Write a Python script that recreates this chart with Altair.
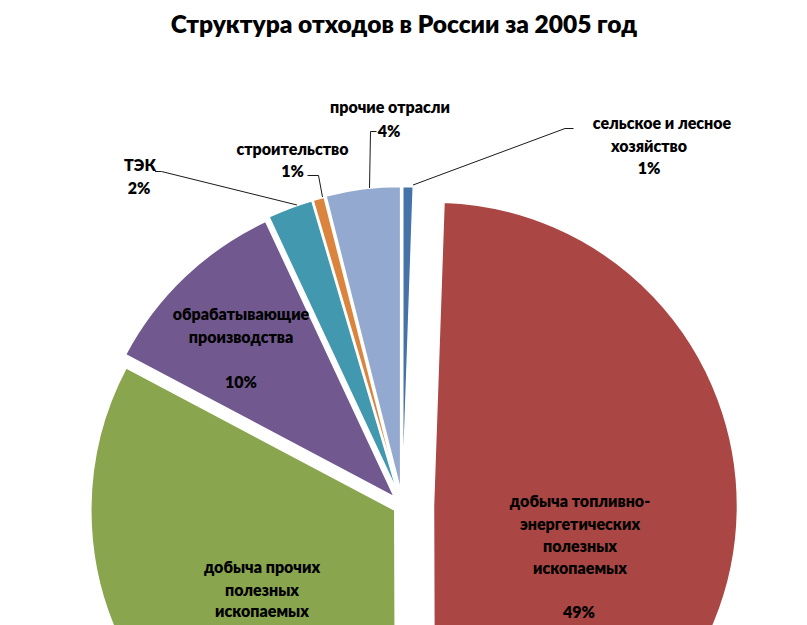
import math
import altair as alt
import pandas as pd

# ---------------- data ----------------
categories = [
    "сельское и лесное хозяйство",
    "добыча топливно-энергетических полезных ископаемых",
    "добыча прочих полезных ископаемых",
    "обрабатывающие производства",
    "ТЭК",
    "строительство",
    "прочие отрасли",
]
values = [0.55, 49.4, 32.8, 10.3, 2.4, 0.6, 3.95]
colors = ["#4572A7", "#AA4643", "#89A54E", "#71588F", "#4198AF", "#DB843D", "#93A9CF"]

title_text = "Структура отходов в России за 2005 год"

# ---------------- layout / style ----------------
CX, CY, R = 402.5, 505.5, 304
EXPLODE = [15, 31, 9, 12, 14, 14, 15]  # px per slice
FONT = "Lato"
LABEL_SIZE = 16
LABEL_WEIGHT = 800

# label lines (text pieces of category names) and their positions
LABEL_LINES = {
    0: [("сельское и лесное", 662, 124), ("хозяйство", 649, 147), ("%", 649, 169)],
    1: [("добыча топливно-", 580, 502), ("энергетических", 580, 525),
        ("полезных", 580, 547), ("ископаемых", 580, 569), ("%", 579, 613)],
    2: [("добыча прочих", 262, 568), ("полезных", 262, 591),
        ("ископаемых", 262, 612)],
    3: [("обрабатывающие", 241, 315), ("производства", 241, 338), ("%", 241, 383)],
    4: [("ТЭК", 140, 166), ("%", 139, 189)],
    5: [("строительство", 292.5, 150), ("%", 292.5, 172)],
    6: [("прочие отрасли", 390, 108), ("%", 389, 132)],
}

LEADERS = [
    # (x, y, x2, y2)
    (376.5, 131.5, 370.5, 131.5), (370.5, 131.5, 369.5, 188),   # прочие отрасли
    (307.5, 175.5, 318.5, 175.5), (318.5, 175.5, 322.5, 197),   # строительство
    (155, 171.5, 161.5, 171.5), (161.5, 171.5, 297, 205),       # ТЭК
    (565, 128.5, 573.5, 128.5), (565, 128.5, 413, 185),         # сельское
]

# ---------------- derived table ----------------
total = sum(values)
pct = [v / total * 100 for v in values]
starts, ends = [], []
acc = 0.0
for p in pct:
    starts.append(acc)
    acc += p
    ends.append(acc)

df = pd.DataFrame({
    "cat": categories,
    "value": values,
    "start": starts,
    "end": ends,
})

theta_scale = alt.Scale(domain=[0, 100], range=[0, 2 * math.pi])
color_scale = alt.Scale(domain=categories, range=colors)

base = alt.Chart(df)
layers = []
for i, cat in enumerate(categories):
    mid = (starts[i] + ends[i]) / 2 / 100 * 2 * math.pi
    dx = EXPLODE[i] * math.sin(mid)
    dy = -EXPLODE[i] * math.cos(mid)
    layers.append(
        base.transform_filter(alt.FieldEqualPredicate(field="cat", equal=cat))
        .mark_arc(outerRadius=R, xOffset=dx, yOffset=dy, clip=True,
                  stroke="white", strokeWidth=1.5)
        .encode(
            theta=alt.Theta("start:Q", scale=theta_scale, stack=False),
            theta2=alt.Theta2("end:Q"),
            color=alt.Color("cat:N", scale=color_scale, legend=None),
            x=alt.value(CX),
            y=alt.value(CY),
        )
    )

# leader lines
for (x1, y1, x2, y2) in LEADERS:
    layers.append(
        alt.Chart(df.head(1)).mark_rule(color="#1a1a1a", strokeWidth=1).encode(
            x=alt.value(x1), y=alt.value(y1), x2=alt.value(x2), y2=alt.value(y2)
        )
    )

# labels
for i, lines in LABEL_LINES.items():
    for txt, x, y in lines:
        t = f"{round(pct[i])}%" if txt == "%" else txt
        layers.append(
            alt.Chart(df.head(1)).mark_text(
                text=t, font=FONT, fontSize=LABEL_SIZE, fontWeight=LABEL_WEIGHT,
                color="#000000", align="center", baseline="middle"
            ).encode(x=alt.value(x), y=alt.value(y))
        )

# title
layers.append(
    alt.Chart(df.head(1)).mark_text(
        text=title_text, font=FONT, fontSize=24.5, fontWeight=800,
        color="#000000", align="center", baseline="middle"
    ).encode(x=alt.value(404), y=alt.value(26))
)

chart = (
    alt.layer(*layers)
    .properties(width=807, height=625, padding=0, autosize="none", background="white")
    .configure_view(stroke=None)
)

chart.save("out.html", embed_options={"renderer": "svg", "actions": False})
